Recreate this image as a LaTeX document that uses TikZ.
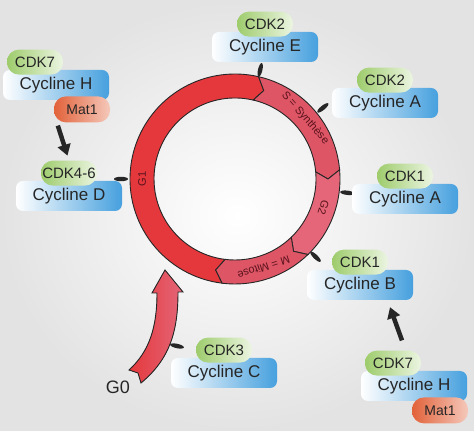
\documentclass[tikz,border=0pt]{standalone}
\usepackage{fontspec}
\setmainfont{Liberation Sans}
\usepackage{tikz}
\usetikzlibrary{positioning,arrows.meta,calc}
\definecolor{cycblue}{RGB}{70,160,222}
\definecolor{cdkgreen}{RGB}{158,204,108}
\definecolor{matorange}{RGB}{226,98,58}
\definecolor{gonered}{RGB}{228,56,60}
\definecolor{phasepink}{RGB}{222,86,102}
\definecolor{gtwopink}{RGB}{228,102,120}
\definecolor{labelred}{RGB}{90,18,28}
\newcommand{\ringout}{105}
\newcommand{\ringin}{81}
\newcommand{\ringmid}{93}
\newcommand{\phaseseg}[3]{%
  \filldraw[fill=#3,draw=black!85,line width=.9pt] (#1:\ringout) arc[start angle=#1,end angle=#2,radius=\ringout] -- ({#2-5}:\ringmid) -- (#2:\ringin) arc[start angle=#2,end angle=#1,radius=\ringin] -- ({#1-5}:\ringmid) -- cycle;}
\newcommand{\thorn}[2]{\fill[black!85,shift={(#1)},rotate=#2] (0,0) ellipse[x radius=7,y radius=2.2];}
\tikzset{
  cyc/.style={rounded corners=7pt,minimum width=106pt,minimum height=30pt,inner sep=0pt,left color=white,right color=cycblue,text=black!85,font=\fontsize{17}{20}\selectfont},
  cdk/.style={rounded corners=12pt,minimum width=56pt,minimum height=25pt,inner sep=0pt,left color=cdkgreen,right color=cdkgreen!20,text=black!85,font=\fontsize{15}{18}\selectfont},
  mat/.style={rounded corners=12pt,minimum width=56pt,minimum height=26pt,inner sep=0pt,left color=matorange,right color=matorange!35,text=black!85,font=\fontsize{14}{17}\selectfont},
  phase/.style={text=labelred,font=\fontsize{11}{12}\selectfont,inner sep=0pt},
  bigarrow/.style={-{Triangle[length=11pt,width=13pt]},line width=4.5pt,black!85}
}
\begin{document}
\begin{tikzpicture}[x=1pt,y=1pt]
  \shade[inner color=white,outer color=black!11] (0,0) rectangle (474,431);
  \useasboundingbox (0,0) rectangle (474,431);
  % cell cycle ring
  \begin{scope}[shift={(235,252)}]
    \phaseseg{263}{77}{gonered}
    \phaseseg{77}{5}{phasepink}
    \phaseseg{5}{-46}{gtwopink}
    \phaseseg{-46}{-97}{phasepink}
    \node[phase,rotate=90] at (180:\ringmid) {G1};
    \node[phase,rotate=-49] at (41:\ringmid) {S = Synth\`{e}se};
    \node[phase,rotate=-108] at (-18:\ringmid) {G2};
    \node[phase,rotate=-162] at (-72:\ringmid) {M = Mitose};
    \thorn{77:112}{77}
    \thorn{39:113}{39}
    \thorn{-7:113}{-7}
    \thorn{-44:112}{-44}
    \thorn{180:114}{180}
  \end{scope}
  % G0 entry arrow
  \filldraw[left color=gonered,right color=gtwopink,draw=black!85,line width=.9pt]
    (165,161) -- (183,139) -- (178,139) .. controls (178,100) and (170,72) .. (141,48)
    -- (138,58) -- (129,61) .. controls (150,80) and (157,105) .. (157,138) -- (152,138) -- cycle;
  \thorn{177,85}{-12}
  \node[font=\fontsize{18}{20}\selectfont,text=black!85] (g0) at (118,44) {G0};
  % complexes
  \node[cyc] (cycE) at (265,384) {Cycline E};
  \node[cdk,above=-5pt of cycE] (cdkE) {CDK2};
  \node[cyc] (cycAs) at (385,328) {Cycline A};
  \node[cdk,above=-5pt of cycAs] (cdkAs) {CDK2};
  \node[cyc] (cycAg) at (405,232) {Cycline A};
  \node[cdk,above=-5pt of cycAg] (cdkAg) {CDK1};
  \node[cyc] (cycB) at (360,146) {Cycline B};
  \node[cdk,above=-5pt of cycB] (cdkB) {CDK1};
  \node[cyc] (cycHb) at (414,45) {Cycline H};
  \node[cdk,above=-5pt of cycHb,xshift=-21pt] (cdkHb) {CDK7};
  \node[mat,below=-4pt of cycHb,xshift=26pt] (matHb) {Mat1};
  \node[cyc] (cycHt) at (56,346) {Cycline H};
  \node[cdk,above=-5pt of cycHt,xshift=-21pt] (cdkHt) {CDK7};
  \node[mat,below=-4pt of cycHt,xshift=26pt] (matHt) {Mat1};
  \node[cyc] (cycD) at (69,235) {Cycline D};
  \node[cdk,above=-5pt of cycD] (cdkD) {CDK4-6};
  \node[cyc] (cycC) at (224,58) {Cycline C};
  \node[cdk,above=-5pt of cycC] (cdkC) {CDK3};
  % activation arrows
  \draw[bigarrow,shorten >=5pt] ([xshift=4pt,yshift=-3pt]matHt.south west) -- (cdkD.north);
  \draw[bigarrow] ([xshift=9pt,yshift=10pt]cdkHb.north) -- ([xshift=30pt,yshift=-7pt]cycB.south);
\end{tikzpicture}
\end{document}
